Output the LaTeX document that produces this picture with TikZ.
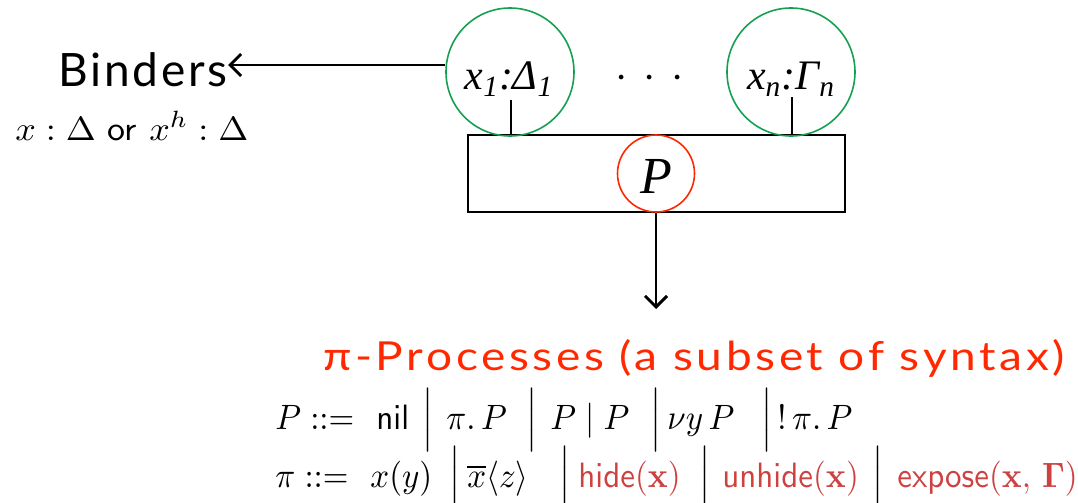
\documentclass[tikz,border=0pt]{standalone}
\usepackage{amsmath}
\usepackage{graphicx}
\usepackage[no-math]{fontspec}
\newfontfamily\gill{Lato}
\newfontfamily\tnr{Liberation Serif}
\usetikzlibrary{arrows.meta}
\definecolor{cgreen}{RGB}{20,160,80}
\definecolor{cred}{RGB}{255,40,0}
\definecolor{hred}{RGB}{205,65,65}
\newcommand{\fm}[1]{\scalebox{1.65}[1.76]{$#1$}}
\newcommand{\rfm}[1]{\scalebox{1.65}[1.76]{\color{hred}$#1$}}
\begin{document}
\begin{tikzpicture}[x=0.5pt,y=-0.5pt,
  bcirc/.style={circle,draw=cgreen,line width=0.8pt,minimum size=64pt,inner sep=0pt},
  pcirc/.style={circle,draw=cred,line width=0.8pt,minimum size=38.5pt,inner sep=0pt},
  ctext/.style={font=\tnr\itshape\fontsize{21}{24}\selectfont,inner sep=0pt,anchor=base},
  conn/.style={line width=0.6pt},
  arr/.style={line width=0.9pt,-{Straight Barb[length=5.5pt,width=11pt,line width=1.5pt]}},
  seg/.style={anchor=base west,inner sep=0pt},
  vbar/.style={anchor=base,inner sep=0pt}]
\useasboundingbox (0,0) rectangle (1078,503);
% box
\node (box) [draw,line width=0.9pt,minimum width=188.5pt,minimum height=38.5pt,inner sep=0pt] at (656.5,173.5) {};
% binder circles
\node (c1) [bcirc] at (510,72) {};
\node (cn) [bcirc] at (791,72) {};
\node (t1) [ctext] at (509,90) {x\textsubscript{1}:Δ\textsubscript{1}};
\node (tn) [ctext] at (791,90) {x\textsubscript{n}:Γ\textsubscript{n}};
\node (dots) [inner sep=0pt] at (650,79) {\scalebox{2.2}{${\cdot}\hspace{3.6pt}{\cdot}\hspace{3.6pt}{\cdot}$}};
\coordinate (s1) at (511,100);
\coordinate (sn) at (792,97);
\draw[conn] (s1) -- (s1 |- box.north);
\draw[conn] (sn) -- (sn |- box.north);
% P circle
\node (pc) [pcirc] at (656,173.5) {};
\node (pt) [font=\tnr\itshape\fontsize{26}{28}\selectfont,inner sep=0pt,anchor=base] at (656,193) {P};
% binders
\node (bind) [font=\gill\addfontfeatures{LetterSpace=6}\fontsize{23}{26}\selectfont,anchor=base east,inner sep=0pt] at (228,86) {Binders};
\draw[arr] (c1.west |- 0,65) -- (bind.east |- 0,65);
\node (bdef) [anchor=base west,inner sep=0pt] at (15,140) {\scalebox{1.8}[1.68]{$x:\Delta$ {\sffamily or} $x^h:\Delta$}};
% processes
\coordinate (tip) at (656,309);
\draw[arr] (pc.south) -- (tip);
\node (proc) [font=\gill\addfontfeatures{LetterSpace=8}\fontsize{20}{22}\selectfont,text=cred,anchor=base west,inner sep=0pt] at (323,370) {\scalebox{1.15}[1]{π-Processes (a subset of syntax)}};
% grammar line 1
\node (a1) [seg] at (275,429) {\fm{P ::=}};
\node (a2) [seg] at (376,429) {\fm{\mathsf{nil}}};
\node (ab1) [vbar] at (428,429) {\fm{\Big|}};
\node (a3) [seg] at (446,429) {\fm{\pi.\,P}};
\node (ab2) [vbar] at (532,429) {\fm{\Big|}};
\node (a4) [seg] at (550,429) {\fm{P\mid P}};
\node (ab3) [vbar] at (656,429) {\fm{\Big|}};
\node (a5) [seg] at (667,429) {\fm{\nu y\,P}};
\node (ab4) [vbar] at (767,429) {\fm{\Big|}};
\node (a6) [seg] at (777,429) {\fm{!\,\pi.\,P}};
% grammar line 2
\node (b1) [seg] at (275,487) {\fm{\pi ::=}};
\node (b2) [seg] at (370,487) {\fm{x(y)}};
\node (bb1) [vbar] at (455,487) {\fm{\Big|}};
\node (b3) [seg] at (467,487) {\fm{\overline{x}\langle z\rangle}};
\node (bb2) [vbar] at (565,487) {\fm{\Big|}};
\node (b4) [seg] at (578,487) {\rfm{\mathsf{hide}(\mathbf{x})}};
\node (bb3) [vbar] at (705,487) {\fm{\Big|}};
\node (b5) [seg] at (722,487) {\rfm{\mathsf{unhide}(\mathbf{x})}};
\node (bb4) [vbar] at (878,487) {\fm{\Big|}};
\node (b6) [seg] at (897,487) {\rfm{\mathsf{expose}(\mathbf{x},\,\mathbf{\Gamma})}};
\end{tikzpicture}
\end{document}
